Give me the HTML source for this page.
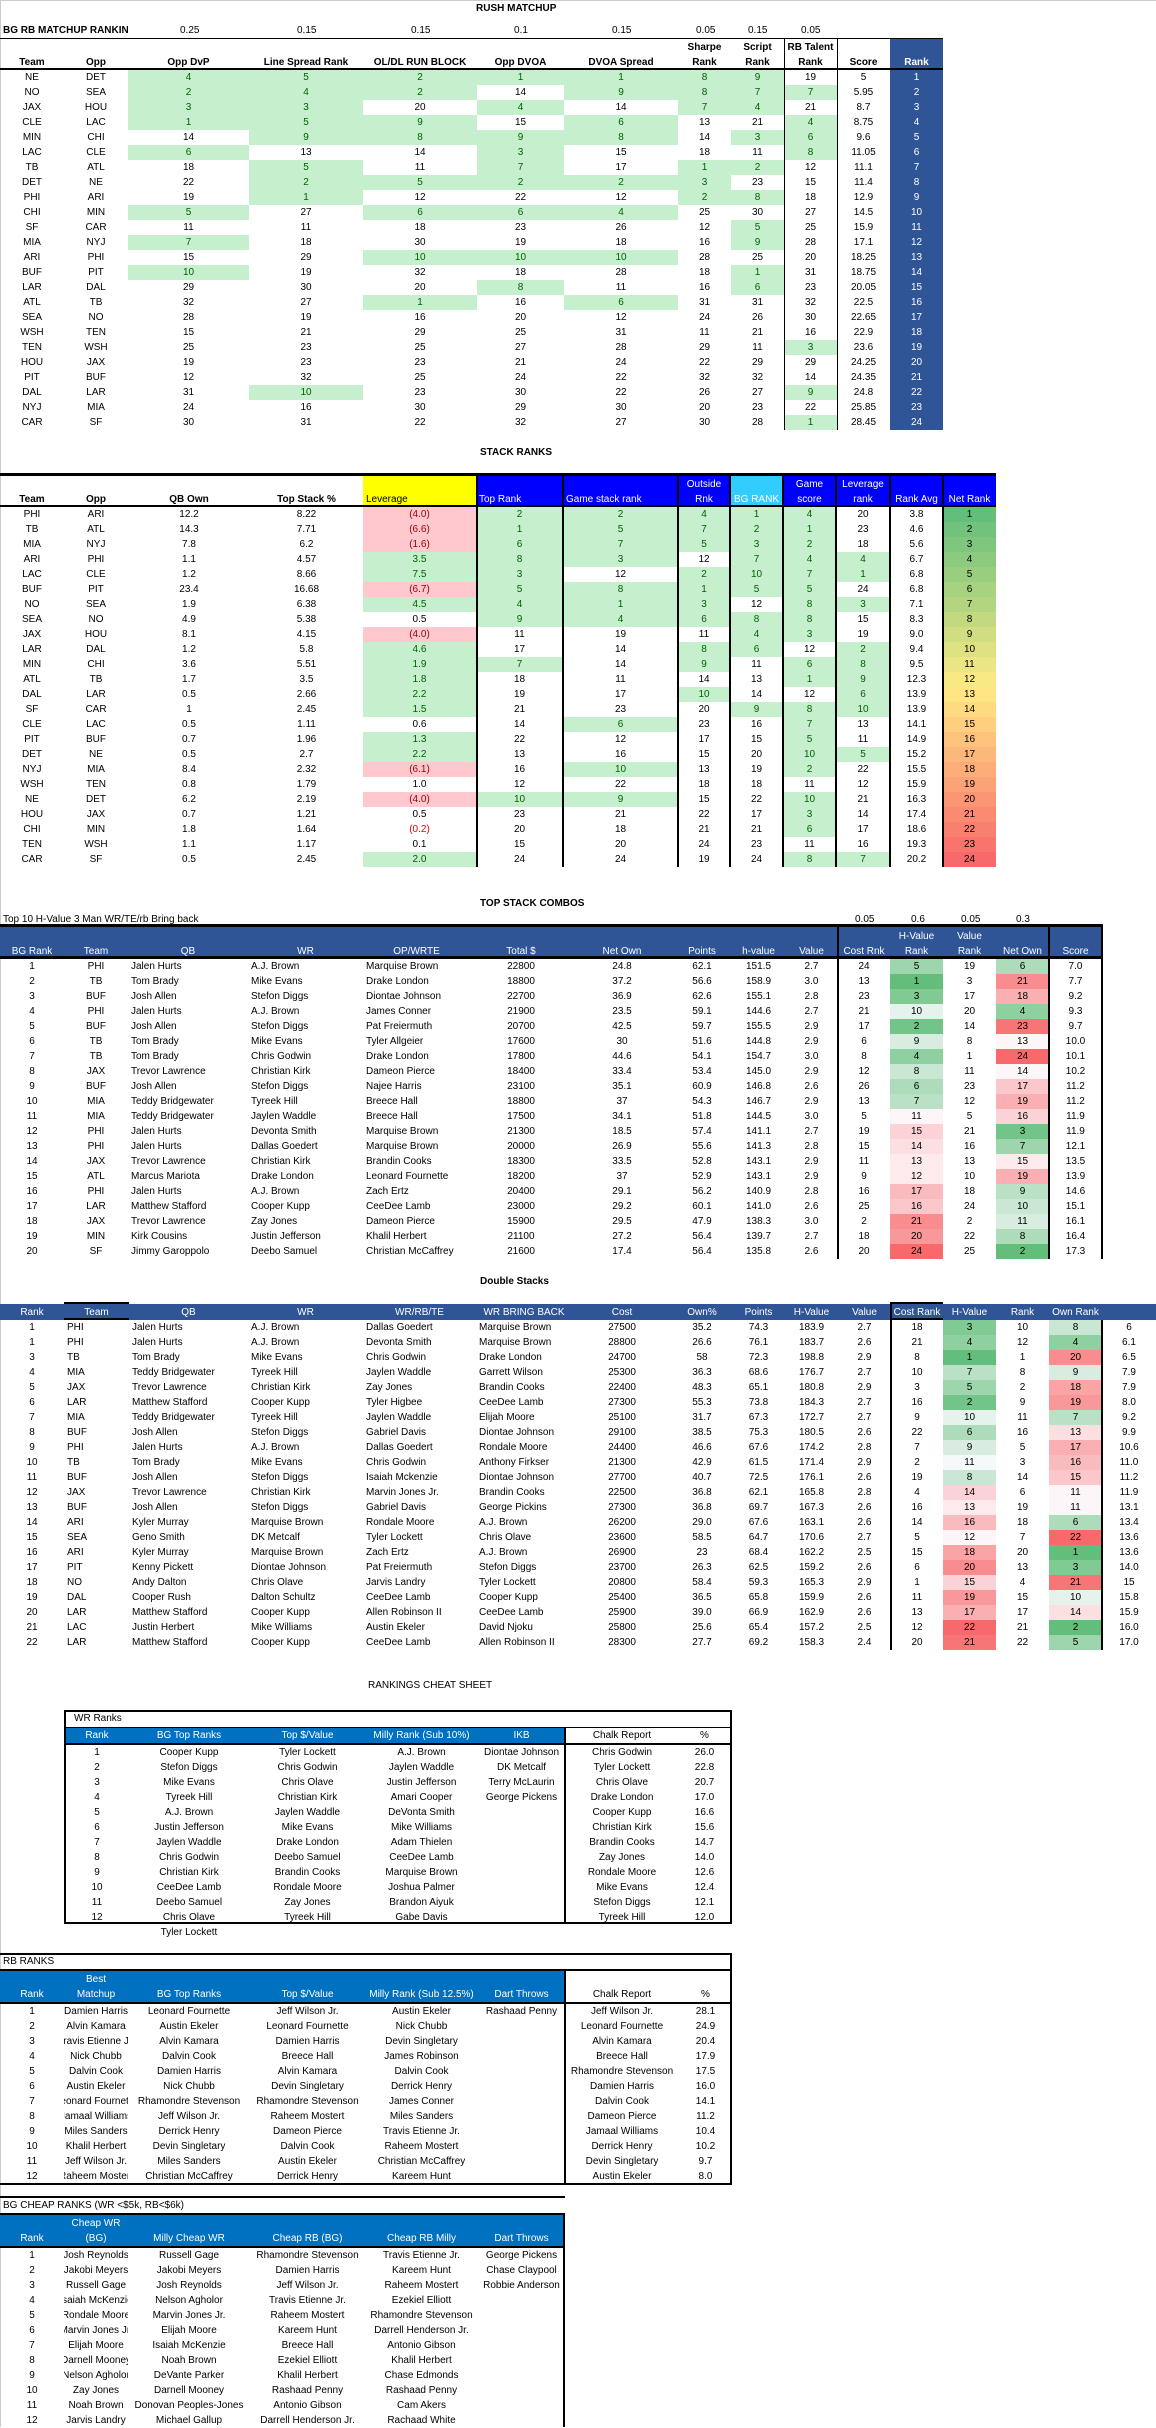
<!DOCTYPE html>
<html><head><meta charset="utf-8">
<style>
body{margin:0;width:1156px;height:2427px;overflow:hidden;position:relative;background:#fff;font-family:"Liberation Sans",sans-serif;font-size:10px;color:#000}
table{position:absolute;border-collapse:collapse;table-layout:fixed;border-spacing:0}
td{height:15px;padding:0;text-align:center;white-space:nowrap;overflow:hidden;line-height:15px}
tr.h td{font-weight:bold;vertical-align:bottom;line-height:15px}
.g{background:#C6EFCE;color:#006100}
.r{background:#FFC7CE;color:#9C0006}
.rt{color:#E00000}
.b{background:#2F5597;color:#fff}
.bb{background:#0000FF;color:#fff}
.cy{background:#33CCFF;color:#fff}
.y{background:#FFFF00}
.l{text-align:left;padding-left:3px}
.t{position:absolute;white-space:nowrap}
.hl{position:absolute;background:#000}
.vl{position:absolute;background:#000}
.c1{background:#63BE7B}.c2{background:#72C488}.c3{background:#80CA94}.c4{background:#8FD0A1}.c5{background:#9DD6AD}.c6{background:#ACDCBA}.c7{background:#BAE1C6}.c8{background:#C9E7D3}.c9{background:#D8EDE0}.c10{background:#E6F3EC}.c11{background:#F5F9F9}.c12{background:#FCF6F9}.c13{background:#FCEAED}.c14{background:#FBDFE1}.c15{background:#FBD3D6}.c16{background:#FBC7CA}.c17{background:#FABBBE}.c18{background:#FAB0B2}.c19{background:#FAA4A6}.c20{background:#F9989A}.c21{background:#F98C8E}.c22{background:#F98183}.c23{background:#F87577}.c24{background:#F8696B}
.cs td{font-size:10px}
.bl{background:#0070C0;color:#fff}
.cl{display:flex;justify-content:center;overflow:hidden;width:64px}
</style></head><body>
<div style="position:absolute;left:0;top:0;width:1px;height:2427px;background:#ccc"></div>
<div style="position:absolute;left:0;top:0;width:1156px;height:1px;background:#ccc"></div>

<!-- RUSH MATCHUP -->
<div class="t" style="left:476px;top:3px;font-weight:bold">RUSH MATCHUP</div>
<div class="t" style="left:3px;top:25px;width:125px;overflow:hidden;font-weight:bold">BG RB MATCHUP RANKINGS</div>
<div class="t" style="left:180px;top:25px">0.25</div>
<div class="t" style="left:297px;top:25px">0.15</div>
<div class="t" style="left:411px;top:25px">0.15</div>
<div class="t" style="left:514px;top:25px">0.1</div>
<div class="t" style="left:612px;top:25px">0.15</div>
<div class="t" style="left:696px;top:25px">0.05</div>
<div class="t" style="left:748px;top:25px">0.15</div>
<div class="t" style="left:801px;top:25px">0.05</div>
<table style="left:0;top:38px;width:943px">
<col style="width:64px"><col style="width:64px"><col style="width:121px"><col style="width:114px"><col style="width:114px"><col style="width:87px"><col style="width:114px"><col style="width:53px"><col style="width:53px"><col style="width:53px"><col style="width:53px"><col style="width:53px">
<tr class="h" style="height:32px"><td>Team<td>Opp<td>Opp DvP<td>Line Spread Rank<td>OL/DL RUN BLOCK<td>Opp DVOA<td>DVOA Spread<td>Sharpe<br>Rank<td>Script<br>Rank<td>RB Talent<br>Rank<td>Score<td class="b">Rank</tr>
<tr><td>NE<td>DET<td class=g>4<td class=g>5<td class=g>2<td class=g>1<td class=g>1<td class=g>8<td class=g>9<td>19<td>5<td class=b>1</tr>
<tr><td>NO<td>SEA<td class=g>2<td class=g>4<td class=g>2<td>14<td class=g>9<td class=g>8<td class=g>7<td class=g>7<td>5.95<td class=b>2</tr>
<tr><td>JAX<td>HOU<td class=g>3<td class=g>3<td>20<td class=g>4<td>14<td class=g>7<td class=g>4<td>21<td>8.7<td class=b>3</tr>
<tr><td>CLE<td>LAC<td class=g>1<td class=g>5<td class=g>9<td>15<td class=g>6<td>13<td>21<td class=g>4<td>8.75<td class=b>4</tr>
<tr><td>MIN<td>CHI<td>14<td class=g>9<td class=g>8<td class=g>9<td class=g>8<td>14<td class=g>3<td class=g>6<td>9.6<td class=b>5</tr>
<tr><td>LAC<td>CLE<td class=g>6<td>13<td>14<td class=g>3<td>15<td>18<td>11<td class=g>8<td>11.05<td class=b>6</tr>
<tr><td>TB<td>ATL<td>18<td class=g>5<td>11<td class=g>7<td>17<td class=g>1<td class=g>2<td>12<td>11.1<td class=b>7</tr>
<tr><td>DET<td>NE<td>22<td class=g>2<td class=g>5<td class=g>2<td class=g>2<td class=g>3<td>23<td>15<td>11.4<td class=b>8</tr>
<tr><td>PHI<td>ARI<td>19<td class=g>1<td>12<td>22<td>12<td class=g>2<td class=g>8<td>18<td>12.9<td class=b>9</tr>
<tr><td>CHI<td>MIN<td class=g>5<td>27<td class=g>6<td class=g>6<td class=g>4<td>25<td>30<td>27<td>14.5<td class=b>10</tr>
<tr><td>SF<td>CAR<td>11<td>11<td>18<td>23<td>26<td>12<td class=g>5<td>25<td>15.9<td class=b>11</tr>
<tr><td>MIA<td>NYJ<td class=g>7<td>18<td>30<td>19<td>18<td>16<td class=g>9<td>28<td>17.1<td class=b>12</tr>
<tr><td>ARI<td>PHI<td>15<td>29<td class=g>10<td class=g>10<td class=g>10<td>28<td>25<td>20<td>18.25<td class=b>13</tr>
<tr><td>BUF<td>PIT<td class=g>10<td>19<td>32<td>18<td>28<td>18<td class=g>1<td>31<td>18.75<td class=b>14</tr>
<tr><td>LAR<td>DAL<td>29<td>30<td>20<td class=g>8<td>11<td>16<td class=g>6<td>23<td>20.05<td class=b>15</tr>
<tr><td>ATL<td>TB<td>32<td>27<td class=g>1<td>16<td class=g>6<td>31<td>31<td>32<td>22.5<td class=b>16</tr>
<tr><td>SEA<td>NO<td>28<td>19<td>16<td>20<td>12<td>24<td>26<td>30<td>22.65<td class=b>17</tr>
<tr><td>WSH<td>TEN<td>15<td>21<td>29<td>25<td>31<td>11<td>21<td>16<td>22.9<td class=b>18</tr>
<tr><td>TEN<td>WSH<td>25<td>23<td>25<td>27<td>28<td>29<td>11<td class=g>3<td>23.6<td class=b>19</tr>
<tr><td>HOU<td>JAX<td>19<td>23<td>23<td>21<td>24<td>22<td>29<td>29<td>24.25<td class=b>20</tr>
<tr><td>PIT<td>BUF<td>12<td>32<td>25<td>24<td>22<td>32<td>32<td>14<td>24.35<td class=b>21</tr>
<tr><td>DAL<td>LAR<td>31<td class=g>10<td>23<td>30<td>22<td>26<td>27<td class=g>9<td>24.8<td class=b>22</tr>
<tr><td>NYJ<td>MIA<td>24<td>16<td>30<td>29<td>30<td>20<td>23<td>22<td>25.85<td class=b>23</tr>
<tr><td>CAR<td>SF<td>30<td>31<td>22<td>32<td>27<td>30<td>28<td class=g>1<td>28.45<td class=b>24</tr>
</table>
<div class="hl" style="left:0;top:38px;width:943px;height:1px"></div>
<div class="hl" style="left:0;top:68px;width:943px;height:2px"></div>
<div class="vl" style="left:784px;top:38px;width:1px;height:392px"></div>
<div class="vl" style="left:837px;top:38px;width:1px;height:392px"></div>

<!-- STACK RANKS -->
<div class="t" style="left:480px;top:447px;font-weight:bold">STACK RANKS</div>
<table style="left:0;top:476px;width:996px">
<col style="width:64px"><col style="width:64px"><col style="width:122px"><col style="width:113px"><col style="width:113px"><col style="width:87px"><col style="width:115px"><col style="width:52px"><col style="width:53px"><col style="width:53px"><col style="width:54px"><col style="width:53px"><col style="width:53px">
<tr class="h" style="height:31px"><td>Team<td>Opp<td>QB Own<td>Top Stack %<td class="y l" style="font-weight:normal">Leverage<td class="bb l" style="font-weight:normal">Top Rank<td class="bb l" style="font-weight:normal">Game stack rank<td class=bb style="font-weight:normal">Outside<br>Rnk<td class=cy style="font-weight:normal">BG RANK<td class=bb style="font-weight:normal">Game<br>score<td class=bb style="font-weight:normal">Leverage<br>rank<td class=bb style="font-weight:normal">Rank Avg<td class=bb style="font-weight:normal">Net Rank</tr>
<tr><td>PHI<td>ARI<td>12.2<td>8.22<td class=r>(4.0)<td class=g>2<td class=g>2<td class=g>4<td class=g>1<td class=g>4<td>20<td>3.8<td style="background:#63BE7B">1</tr>
<tr><td>TB<td>ATL<td>14.3<td>7.71<td class=r>(6.6)<td class=g>1<td class=g>5<td class=g>7<td class=g>2<td class=g>1<td>23<td>4.6<td style="background:#71C27C">2</tr>
<tr><td>MIA<td>NYJ<td>7.8<td>6.2<td class=r>(1.6)<td class=g>6<td class=g>7<td class=g>5<td class=g>3<td class=g>2<td>18<td>5.6<td style="background:#7EC67D">3</tr>
<tr><td>ARI<td>PHI<td>1.1<td>4.57<td class=g>3.5<td class=g>8<td class=g>3<td>12<td class=g>7<td class=g>4<td class=g>4<td>6.7<td style="background:#8CCA7D">4</tr>
<tr><td>LAC<td>CLE<td>1.2<td>8.66<td class=g>7.5<td class=g>3<td>12<td class=g>2<td class=g>10<td class=g>7<td class=g>1<td>6.8<td style="background:#99CE7E">5</tr>
<tr><td>BUF<td>PIT<td>23.4<td>16.68<td class=r>(6.7)<td class=g>5<td class=g>8<td class=g>1<td class=g>5<td class=g>5<td>24<td>6.8<td style="background:#A7D27F">6</tr>
<tr><td>NO<td>SEA<td>1.9<td>6.38<td class=g>4.5<td class=g>4<td class=g>1<td class=g>3<td>12<td class=g>8<td class=g>3<td>7.1<td style="background:#B4D580">7</tr>
<tr><td>SEA<td>NO<td>4.9<td>5.38<td>0.5<td class=g>9<td class=g>4<td class=g>6<td class=g>8<td class=g>8<td>15<td>8.3<td style="background:#C2D980">8</tr>
<tr><td>JAX<td>HOU<td>8.1<td>4.15<td class=r>(4.0)<td>11<td>19<td>11<td class=g>4<td class=g>3<td>19<td>9.0<td style="background:#D0DD81">9</tr>
<tr><td>LAR<td>DAL<td>1.2<td>5.8<td class=g>4.6<td>17<td>14<td class=g>8<td class=g>6<td>12<td class=g>2<td>9.4<td style="background:#DDE182">10</tr>
<tr><td>MIN<td>CHI<td>3.6<td>5.51<td class=g>1.9<td class=g>7<td>14<td class=g>9<td>11<td class=g>6<td class=g>8<td>9.5<td style="background:#EBE583">11</tr>
<tr><td>ATL<td>TB<td>1.7<td>3.5<td class=g>1.8<td>18<td>11<td>14<td>13<td class=g>1<td class=g>9<td>12.3<td style="background:#F8E984">12</tr>
<tr><td>DAL<td>LAR<td>0.5<td>2.66<td class=g>2.2<td>19<td>17<td class=g>10<td>14<td>12<td class=g>6<td>13.9<td style="background:#FFE583">13</tr>
<tr><td>SF<td>CAR<td>1<td>2.45<td class=g>1.5<td>21<td>23<td>20<td class=g>9<td class=g>8<td class=g>10<td>13.9<td style="background:#FEDA81">14</tr>
<tr><td>CLE<td>LAC<td>0.5<td>1.11<td>0.6<td>14<td class=g>6<td>23<td>16<td class=g>7<td>13<td>14.1<td style="background:#FDCF7F">15</tr>
<tr><td>PIT<td>BUF<td>0.7<td>1.96<td class=g>1.3<td>22<td>12<td>17<td>15<td class=g>5<td>11<td>14.9<td style="background:#FDC37C">16</tr>
<tr><td>DET<td>NE<td>0.5<td>2.7<td class=g>2.2<td>13<td>16<td>15<td>20<td class=g>10<td class=g>5<td>15.2<td style="background:#FCB87A">17</tr>
<tr><td>NYJ<td>MIA<td>8.4<td>2.32<td class=r>(6.1)<td>16<td class=g>10<td>13<td>19<td class=g>2<td>22<td>15.5<td style="background:#FCAD78">18</tr>
<tr><td>WSH<td>TEN<td>0.8<td>1.79<td>1.0<td>12<td>22<td>18<td>18<td>11<td>12<td>15.9<td style="background:#FBA276">19</tr>
<tr><td>NE<td>DET<td>6.2<td>2.19<td class=r>(4.0)<td class=g>10<td class=g>9<td>15<td>22<td class=g>10<td>21<td>16.3<td style="background:#FA9674">20</tr>
<tr><td>HOU<td>JAX<td>0.7<td>1.21<td>0.5<td>23<td>21<td>22<td>17<td class=g>3<td>14<td>17.4<td style="background:#FA8B72">21</tr>
<tr><td>CHI<td>MIN<td>1.8<td>1.64<td class=rt>(0.2)<td>20<td>18<td>21<td>21<td class=g>6<td>17<td>18.6<td style="background:#F9806F">22</tr>
<tr><td>TEN<td>WSH<td>1.1<td>1.17<td>0.1<td>15<td>20<td>24<td>23<td>11<td>16<td>19.3<td style="background:#F9746D">23</tr>
<tr><td>CAR<td>SF<td>0.5<td>2.45<td class=g>2.0<td>24<td>24<td>19<td>24<td class=g>8<td class=g>7<td>20.2<td style="background:#F8696B">24</tr>
</table>
<div class="hl" style="left:0;top:473px;width:996px;height:3px"></div>
<div class="hl" style="left:0;top:505px;width:996px;height:2px"></div>
<div class="vl" style="left:476px;top:476px;width:2px;height:391px"></div>
<div class="vl" style="left:562px;top:476px;width:2px;height:391px"></div>
<div class="vl" style="left:677px;top:476px;width:2px;height:391px"></div>
<div class="vl" style="left:729px;top:476px;width:2px;height:391px"></div>
<div class="vl" style="left:782px;top:476px;width:2px;height:391px"></div>
<div class="vl" style="left:835px;top:476px;width:2px;height:391px"></div>
<div class="vl" style="left:889px;top:476px;width:2px;height:391px"></div>
<div class="vl" style="left:942px;top:476px;width:2px;height:391px"></div>

<!-- TOP STACK COMBOS -->
<div class="t" style="left:480px;top:898px;font-weight:bold">TOP STACK COMBOS</div>
<div class="t" style="left:3px;top:914px">Top 10 H-Value 3 Man WR/TE/rb Bring back</div>
<div class="t" style="left:855px;top:914px">0.05</div>
<div class="t" style="left:911px;top:914px">0.6</div>
<div class="t" style="left:961px;top:914px">0.05</div>
<div class="t" style="left:1016px;top:914px">0.3</div>
<table style="left:0;top:927px;width:1102px">
<col style="width:64px"><col style="width:64px"><col style="width:120px"><col style="width:115px"><col style="width:107px"><col style="width:102px"><col style="width:100px"><col style="width:60px"><col style="width:53px"><col style="width:53px"><col style="width:52px"><col style="width:53px"><col style="width:53px"><col style="width:53px"><col style="width:53px">
<tr style="height:32px" class="b"><td style="vertical-align:bottom">BG Rank<td style="vertical-align:bottom">Team<td style="vertical-align:bottom">QB<td style="vertical-align:bottom">WR<td style="vertical-align:bottom">OP/WRTE<td style="vertical-align:bottom">Total $<td style="vertical-align:bottom">Net Own<td style="vertical-align:bottom">Points<td style="vertical-align:bottom">h-value<td style="vertical-align:bottom">Value<td style="vertical-align:bottom">Cost Rnk<td style="vertical-align:bottom">H-Value<br>Rank<td style="vertical-align:bottom">Value<br>Rank<td style="vertical-align:bottom">Net Own<td style="vertical-align:bottom">Score</tr>
<tr><td>1<td>PHI<td class=l>Jalen Hurts<td class=l>A.J. Brown<td class=l>Marquise Brown<td>22800<td>24.8<td>62.1<td>151.5<td>2.7<td>24<td class=c5>5<td>19<td class=c6>6<td>7.0</tr>
<tr><td>2<td>TB<td class=l>Tom Brady<td class=l>Mike Evans<td class=l>Drake London<td>18800<td>37.2<td>56.6<td>158.9<td>3.0<td>13<td class=c1>1<td>3<td class=c21>21<td>7.7</tr>
<tr><td>3<td>BUF<td class=l>Josh Allen<td class=l>Stefon Diggs<td class=l>Diontae Johnson<td>22700<td>36.9<td>62.6<td>155.1<td>2.8<td>23<td class=c3>3<td>17<td class=c18>18<td>9.2</tr>
<tr><td>4<td>PHI<td class=l>Jalen Hurts<td class=l>A.J. Brown<td class=l>James Conner<td>21900<td>23.5<td>59.1<td>144.6<td>2.7<td>21<td class=c10>10<td>20<td class=c4>4<td>9.3</tr>
<tr><td>5<td>BUF<td class=l>Josh Allen<td class=l>Stefon Diggs<td class=l>Pat Freiermuth<td>20700<td>42.5<td>59.7<td>155.5<td>2.9<td>17<td class=c2>2<td>14<td class=c23>23<td>9.7</tr>
<tr><td>6<td>TB<td class=l>Tom Brady<td class=l>Mike Evans<td class=l>Tyler Allgeier<td>17600<td>30<td>51.6<td>144.8<td>2.9<td>6<td class=c9>9<td>8<td class=c12>13<td>10.0</tr>
<tr><td>7<td>TB<td class=l>Tom Brady<td class=l>Chris Godwin<td class=l>Drake London<td>17800<td>44.6<td>54.1<td>154.7<td>3.0<td>8<td class=c4>4<td>1<td class=c24>24<td>10.1</tr>
<tr><td>8<td>JAX<td class=l>Trevor Lawrence<td class=l>Christian Kirk<td class=l>Dameon Pierce<td>18400<td>33.4<td>53.4<td>145.0<td>2.9<td>12<td class=c8>8<td>11<td class=c12>14<td>10.2</tr>
<tr><td>9<td>BUF<td class=l>Josh Allen<td class=l>Stefon Diggs<td class=l>Najee Harris<td>23100<td>35.1<td>60.9<td>146.8<td>2.6<td>26<td class=c6>6<td>23<td class=c16>17<td>11.2</tr>
<tr><td>10<td>MIA<td class=l>Teddy Bridgewater<td class=l>Tyreek Hill<td class=l>Breece Hall<td>18800<td>37<td>54.3<td>146.7<td>2.9<td>13<td class=c7>7<td>12<td class=c18>19<td>11.2</tr>
<tr><td>11<td>MIA<td class=l>Teddy Bridgewater<td class=l>Jaylen Waddle<td class=l>Breece Hall<td>17500<td>34.1<td>51.8<td>144.5<td>3.0<td>5<td class=c12>11<td>5<td class=c15>16<td>11.9</tr>
<tr><td>12<td>PHI<td class=l>Jalen Hurts<td class=l>Devonta Smith<td class=l>Marquise Brown<td>21300<td>18.5<td>57.4<td>141.1<td>2.7<td>19<td class=c15>15<td>21<td class=c2>3<td>11.9</tr>
<tr><td>13<td>PHI<td class=l>Jalen Hurts<td class=l>Dallas Goedert<td class=l>Marquise Brown<td>20000<td>26.9<td>55.6<td>141.3<td>2.8<td>15<td class=c14>14<td>16<td class=c5>7<td>12.1</tr>
<tr><td>14<td>JAX<td class=l>Trevor Lawrence<td class=l>Christian Kirk<td class=l>Brandin Cooks<td>18300<td>33.5<td>52.8<td>143.1<td>2.9<td>11<td class=c13>13<td>13<td class=c13>15<td>13.5</tr>
<tr><td>15<td>ATL<td class=l>Marcus Mariota<td class=l>Drake London<td class=l>Leonard Fournette<td>18200<td>37<td>52.9<td>143.1<td>2.9<td>9<td class=c13>12<td>10<td class=c18>19<td>13.9</tr>
<tr><td>16<td>PHI<td class=l>Jalen Hurts<td class=l>A.J. Brown<td class=l>Zach Ertz<td>20400<td>29.1<td>56.2<td>140.9<td>2.8<td>16<td class=c17>17<td>18<td class=c7>9<td>14.6</tr>
<tr><td>17<td>LAR<td class=l>Matthew Stafford<td class=l>Cooper Kupp<td class=l>CeeDee Lamb<td>23000<td>29.2<td>60.1<td>141.0<td>2.6<td>25<td class=c16>16<td>24<td class=c8>10<td>15.1</tr>
<tr><td>18<td>JAX<td class=l>Trevor Lawrence<td class=l>Zay Jones<td class=l>Dameon Pierce<td>15900<td>29.5<td>47.9<td>138.3<td>3.0<td>2<td class=c21>21<td>2<td class=c9>11<td>16.1</tr>
<tr><td>19<td>MIN<td class=l>Kirk Cousins<td class=l>Justin Jefferson<td class=l>Khalil Herbert<td>21100<td>27.2<td>56.4<td>139.7<td>2.7<td>18<td class=c20>20<td>22<td class=c6>8<td>16.4</tr>
<tr><td>20<td>SF<td class=l>Jimmy Garoppolo<td class=l>Deebo Samuel<td class=l>Christian McCaffrey<td>21600<td>17.4<td>56.4<td>135.8<td>2.6<td>20<td class=c24>24<td>25<td class=c1>2<td>17.3</tr>
</table>
<div class="hl" style="left:0;top:924px;width:1102px;height:3px"></div>
<div class="hl" style="left:0;top:956px;width:1102px;height:3px"></div>
<div class="vl" style="left:837px;top:924px;width:2px;height:335px"></div>
<div class="vl" style="left:1048px;top:924px;width:2px;height:335px"></div>
<div class="vl" style="left:1101px;top:924px;width:2px;height:335px"></div>

<!-- DOUBLE STACKS -->
<div class="t" style="left:480px;top:1276px;font-weight:bold">Double Stacks</div>
<table style="left:0;top:1304px;width:1156px">
<col style="width:64px"><col style="width:65px"><col style="width:119px"><col style="width:115px"><col style="width:113px"><col style="width:96px"><col style="width:100px"><col style="width:60px"><col style="width:53px"><col style="width:53px"><col style="width:53px"><col style="width:52px"><col style="width:53px"><col style="width:53px"><col style="width:53px"><col style="width:54px">
<tr style="height:16px" class="b"><td>Rank<td>Team<td>QB<td>WR<td>WR/RB/TE<td>WR BRING BACK<td>Cost<td>Own%<td>Points<td>H-Value<td>Value<td>Cost Rank<td>H-Value<td>Rank<td>Own Rank<td></tr>
<tr><td>1<td class=l>PHI<td class=l>Jalen Hurts<td class=l>A.J. Brown<td class=l>Dallas Goedert<td class=l>Marquise Brown<td>27500<td>35.2<td>74.3<td>183.9<td>2.7<td>18<td class=c3>3<td>10<td class=c8>8<td>6</tr>
<tr><td>1<td class=l>PHI<td class=l>Jalen Hurts<td class=l>A.J. Brown<td class=l>Devonta Smith<td class=l>Marquise Brown<td>28800<td>26.6<td>76.1<td>183.7<td>2.6<td>21<td class=c4>4<td>12<td class=c4>4<td>6.1</tr>
<tr><td>3<td class=l>TB<td class=l>Tom Brady<td class=l>Mike Evans<td class=l>Chris Godwin<td class=l>Drake London<td>24700<td>58<td>72.3<td>198.8<td>2.9<td>8<td class=c1>1<td>1<td class=c21>20<td>6.5</tr>
<tr><td>4<td class=l>MIA<td class=l>Teddy Bridgewater<td class=l>Tyreek Hill<td class=l>Jaylen Waddle<td class=l>Garrett Wilson<td>25300<td>36.3<td>68.6<td>176.7<td>2.7<td>10<td class=c7>7<td>8<td class=c9>9<td>7.9</tr>
<tr><td>5<td class=l>JAX<td class=l>Trevor Lawrence<td class=l>Christian Kirk<td class=l>Zay Jones<td class=l>Brandin Cooks<td>22400<td>48.3<td>65.1<td>180.8<td>2.9<td>3<td class=c5>5<td>2<td class=c19>18<td>7.9</tr>
<tr><td>6<td class=l>LAR<td class=l>Matthew Stafford<td class=l>Cooper Kupp<td class=l>Tyler Higbee<td class=l>CeeDee Lamb<td>27300<td>55.3<td>73.8<td>184.3<td>2.7<td>16<td class=c2>2<td>9<td class=c20>19<td>8.0</tr>
<tr><td>7<td class=l>MIA<td class=l>Teddy Bridgewater<td class=l>Tyreek Hill<td class=l>Jaylen Waddle<td class=l>Elijah Moore<td>25100<td>31.7<td>67.3<td>172.7<td>2.7<td>9<td class=c10>10<td>11<td class=c7>7<td>9.2</tr>
<tr><td>8<td class=l>BUF<td class=l>Josh Allen<td class=l>Stefon Diggs<td class=l>Gabriel Davis<td class=l>Diontae Johnson<td>29100<td>38.5<td>75.3<td>180.5<td>2.6<td>22<td class=c6>6<td>16<td class=c14>13<td>9.9</tr>
<tr><td>9<td class=l>PHI<td class=l>Jalen Hurts<td class=l>A.J. Brown<td class=l>Dallas Goedert<td class=l>Rondale Moore<td>24400<td>46.6<td>67.6<td>174.2<td>2.8<td>7<td class=c9>9<td>5<td class=c18>17<td>10.6</tr>
<tr><td>10<td class=l>TB<td class=l>Tom Brady<td class=l>Mike Evans<td class=l>Chris Godwin<td class=l>Anthony Firkser<td>21300<td>42.9<td>61.5<td>171.4<td>2.9<td>2<td class=c11>11<td>3<td class=c17>16<td>11.0</tr>
<tr><td>11<td class=l>BUF<td class=l>Josh Allen<td class=l>Stefon Diggs<td class=l>Isaiah Mckenzie<td class=l>Diontae Johnson<td>27700<td>40.7<td>72.5<td>176.1<td>2.6<td>19<td class=c8>8<td>14<td class=c16>15<td>11.2</tr>
<tr><td>12<td class=l>JAX<td class=l>Trevor Lawrence<td class=l>Christian Kirk<td class=l>Marvin Jones Jr.<td class=l>Brandin Cooks<td>22500<td>36.8<td>62.1<td>165.8<td>2.8<td>4<td class=c15>14<td>6<td class=c12>11<td>11.9</tr>
<tr><td>13<td class=l>BUF<td class=l>Josh Allen<td class=l>Stefon Diggs<td class=l>Gabriel Davis<td class=l>George Pickins<td>27300<td>36.8<td>69.7<td>167.3<td>2.6<td>16<td class=c13>13<td>19<td class=c12>11<td>13.1</tr>
<tr><td>14<td class=l>ARI<td class=l>Kyler Murray<td class=l>Marquise Brown<td class=l>Rondale Moore<td class=l>A.J. Brown<td>26200<td>29.0<td>67.6<td>163.1<td>2.6<td>14<td class=c17>16<td>18<td class=c6>6<td>13.4</tr>
<tr><td>15<td class=l>SEA<td class=l>Geno Smith<td class=l>DK Metcalf<td class=l>Tyler Lockett<td class=l>Chris Olave<td>23600<td>58.5<td>64.7<td>170.6<td>2.7<td>5<td class=c12>12<td>7<td class=c24>22<td>13.6</tr>
<tr><td>16<td class=l>ARI<td class=l>Kyler Murray<td class=l>Marquise Brown<td class=l>Zach Ertz<td class=l>A.J. Brown<td>26900<td>23<td>68.4<td>162.2<td>2.5<td>15<td class=c19>18<td>20<td class=c1>1<td>13.6</tr>
<tr><td>17<td class=l>PIT<td class=l>Kenny Pickett<td class=l>Diontae Johnson<td class=l>Pat Freiermuth<td class=l>Stefon Diggs<td>23700<td>26.3<td>62.5<td>159.2<td>2.6<td>6<td class=c21>20<td>13<td class=c3>3<td>14.0</tr>
<tr><td>18<td class=l>NO<td class=l>Andy Dalton<td class=l>Chris Olave<td class=l>Jarvis Landry<td class=l>Tyler Lockett<td>20800<td>58.4<td>59.3<td>165.3<td>2.9<td>1<td class=c15>15<td>4<td class=c23>21<td>15</tr>
<tr><td>19<td class=l>DAL<td class=l>Cooper Rush<td class=l>Dalton Schultz<td class=l>CeeDee Lamb<td class=l>Cooper Kupp<td>25400<td>36.5<td>65.8<td>159.9<td>2.6<td>11<td class=c20>19<td>15<td class=c10>10<td>15.8</tr>
<tr><td>20<td class=l>LAR<td class=l>Matthew Stafford<td class=l>Cooper Kupp<td class=l>Allen Robinson II<td class=l>CeeDee Lamb<td>25900<td>39.0<td>66.9<td>162.9<td>2.6<td>13<td class=c18>17<td>17<td class=c14>14<td>15.9</tr>
<tr><td>21<td class=l>LAC<td class=l>Justin Herbert<td class=l>Mike Williams<td class=l>Austin Ekeler<td class=l>David Njoku<td>25800<td>25.6<td>65.4<td>157.2<td>2.5<td>12<td class=c24>22<td>21<td class=c1>2<td>16.0</tr>
<tr><td>22<td class=l>LAR<td class=l>Matthew Stafford<td class=l>Cooper Kupp<td class=l>CeeDee Lamb<td class=l>Allen Robinson II<td>28300<td>27.7<td>69.2<td>158.3<td>2.4<td>20<td class=c23>21<td>22<td class=c5>5<td>17.0</tr>
</table>
<div class="hl" style="left:64px;top:1302px;width:65px;height:2px"></div>
<div class="hl" style="left:64px;top:1318px;width:65px;height:2px"></div>
<div class="hl" style="left:891px;top:1302px;width:52px;height:2px"></div>
<div class="hl" style="left:891px;top:1318px;width:52px;height:2px"></div>
<div class="vl" style="left:890px;top:1302px;width:2px;height:348px"></div>
<div class="vl" style="left:1101px;top:1320px;width:2px;height:330px"></div>

<!-- CHEAT SHEET -->
<div class="t" style="left:368px;top:1680px">RANKINGS CHEAT SHEET</div>
<div style="position:absolute;left:64px;top:1710px;width:664px;height:210px;border:2px solid #000"></div>
<div class="t" style="left:74px;top:1713px">WR Ranks</div>
<div class="hl" style="left:64px;top:1727px;width:668px;height:1px"></div>
<table class="cs" style="left:66px;top:1728px;width:664px">
<col style="width:62px"><col style="width:122px"><col style="width:115px"><col style="width:113px"><col style="width:87px"><col style="width:114px"><col style="width:51px">
<tr style="height:14px"><td class=bl>Rank<td class=bl>BG Top Ranks<td class=bl>Top $/Value<td class=bl>Milly Rank (Sub 10%)<td class=bl>IKB<td>Chalk Report<td>%</tr>
<tr style="height:2px"><td colspan=7 style="height:2px;background:#000"></tr>
<tr><td>1<td>Cooper Kupp<td>Tyler Lockett<td>A.J. Brown<td>Diontae Johnson<td>Chris Godwin<td>26.0</tr>
<tr><td>2<td>Stefon Diggs<td>Chris Godwin<td>Jaylen Waddle<td>DK Metcalf<td>Tyler Lockett<td>22.8</tr>
<tr><td>3<td>Mike Evans<td>Chris Olave<td>Justin Jefferson<td>Terry McLaurin<td>Chris Olave<td>20.7</tr>
<tr><td>4<td>Tyreek Hill<td>Christian Kirk<td>Amari Cooper<td>George Pickens<td>Drake London<td>17.0</tr>
<tr><td>5<td>A.J. Brown<td>Jaylen Waddle<td>DeVonta Smith<td><td>Cooper Kupp<td>16.6</tr>
<tr><td>6<td>Justin Jefferson<td>Mike Evans<td>Mike Williams<td><td>Christian Kirk<td>15.6</tr>
<tr><td>7<td>Jaylen Waddle<td>Drake London<td>Adam Thielen<td><td>Brandin Cooks<td>14.7</tr>
<tr><td>8<td>Chris Godwin<td>Deebo Samuel<td>CeeDee Lamb<td><td>Zay Jones<td>14.0</tr>
<tr><td>9<td>Christian Kirk<td>Brandin Cooks<td>Marquise Brown<td><td>Rondale Moore<td>12.6</tr>
<tr><td>10<td>CeeDee Lamb<td>Rondale Moore<td>Joshua Palmer<td><td>Mike Evans<td>12.4</tr>
<tr><td>11<td>Deebo Samuel<td>Zay Jones<td>Brandon Aiyuk<td><td>Stefon Diggs<td>12.1</tr>
<tr><td>12<td>Chris Olave<td>Tyreek Hill<td>Gabe Davis<td><td>Tyreek Hill<td>12.0</tr>
<tr><td><td>Tyler Lockett<td><td><td><td><td></tr>
</table>
<div class="vl" style="left:564px;top:1727px;width:2px;height:195px"></div>

<!-- RB RANKS -->
<div class="hl" style="left:0;top:1953px;width:732px;height:2px"></div>
<div class="t" style="left:3px;top:1956px">RB RANKS</div>
<div class="hl" style="left:0;top:1969px;width:732px;height:2px"></div>
<table class="cs" style="left:0;top:1971px;width:732px">
<col style="width:64px"><col style="width:64px"><col style="width:122px"><col style="width:115px"><col style="width:113px"><col style="width:87px"><col style="width:114px"><col style="width:53px">
<tr style="height:31px"><td class=bl style="vertical-align:bottom">Rank<td class=bl>Best<br>Matchup<td class=bl style="vertical-align:bottom">BG Top Ranks<td class=bl style="vertical-align:bottom">Top $/Value<td class=bl style="vertical-align:bottom">Milly Rank (Sub 12.5%)<td class=bl style="vertical-align:bottom">Dart Throws<td style="vertical-align:bottom">Chalk Report<td style="vertical-align:bottom">%</tr>
<tr style="height:2px"><td colspan=8 style="height:2px;background:#000"></tr>
<tr><td>1<td><div class=cl>Damien Harris</div><td>Leonard Fournette<td>Jeff Wilson Jr.<td>Austin Ekeler<td>Rashaad Penny<td>Jeff Wilson Jr.<td>28.1</tr>
<tr><td>2<td><div class=cl>Alvin Kamara</div><td>Austin Ekeler<td>Leonard Fournette<td>Nick Chubb<td><td>Leonard Fournette<td>24.9</tr>
<tr><td>3<td><div class=cl>Travis Etienne Jr.</div><td>Alvin Kamara<td>Damien Harris<td>Devin Singletary<td><td>Alvin Kamara<td>20.4</tr>
<tr><td>4<td><div class=cl>Nick Chubb</div><td>Dalvin Cook<td>Breece Hall<td>James Robinson<td><td>Breece Hall<td>17.9</tr>
<tr><td>5<td><div class=cl>Dalvin Cook</div><td>Damien Harris<td>Alvin Kamara<td>Dalvin Cook<td><td>Rhamondre Stevenson<td>17.5</tr>
<tr><td>6<td><div class=cl>Austin Ekeler</div><td>Nick Chubb<td>Devin Singletary<td>Derrick Henry<td><td>Damien Harris<td>16.0</tr>
<tr><td>7<td><div class=cl>Leonard Fournette</div><td>Rhamondre Stevenson<td>Rhamondre Stevenson<td>James Conner<td><td>Dalvin Cook<td>14.1</tr>
<tr><td>8<td><div class=cl>Jamaal Williams</div><td>Jeff Wilson Jr.<td>Raheem Mostert<td>Miles Sanders<td><td>Dameon Pierce<td>11.2</tr>
<tr><td>9<td><div class=cl>Miles Sanders</div><td>Derrick Henry<td>Dameon Pierce<td>Travis Etienne Jr.<td><td>Jamaal Williams<td>10.4</tr>
<tr><td>10<td><div class=cl>Khalil Herbert</div><td>Devin Singletary<td>Dalvin Cook<td>Raheem Mostert<td><td>Derrick Henry<td>10.2</tr>
<tr><td>11<td><div class=cl>Jeff Wilson Jr.</div><td>Miles Sanders<td>Austin Ekeler<td>Christian McCaffrey<td><td>Devin Singletary<td>9.7</tr>
<tr><td>12<td><div class=cl>Raheem Mostert</div><td>Christian McCaffrey<td>Derrick Henry<td>Kareem Hunt<td><td>Austin Ekeler<td>8.0</tr>
</table>
<div class="vl" style="left:564px;top:1969px;width:2px;height:216px"></div>
<div class="vl" style="left:730px;top:1953px;width:2px;height:232px"></div>
<div class="hl" style="left:0;top:2183px;width:732px;height:2px"></div>

<!-- CHEAP -->
<div class="hl" style="left:0;top:2196px;width:565px;height:2px"></div>
<div class="t" style="left:3px;top:2200px">BG CHEAP RANKS (WR &lt;$5k, RB&lt;$6k)</div>
<table class="cs" style="left:0;top:2215px;width:565px">
<col style="width:64px"><col style="width:64px"><col style="width:122px"><col style="width:115px"><col style="width:113px"><col style="width:87px">
<tr style="height:31px"><td class=bl style="vertical-align:bottom">Rank<td class=bl>Cheap WR<br>(BG)<td class=bl style="vertical-align:bottom">Milly Cheap WR<td class=bl style="vertical-align:bottom">Cheap RB (BG)<td class=bl style="vertical-align:bottom">Cheap RB Milly<td class=bl style="vertical-align:bottom">Dart Throws</tr>
<tr style="height:2px"><td colspan=6 style="height:2px;background:#000"></tr>
<tr><td>1<td><div class=cl>Josh Reynolds</div><td>Russell Gage<td>Rhamondre Stevenson<td>Travis Etienne Jr.<td>George Pickens</tr>
<tr><td>2<td><div class=cl>Jakobi Meyers</div><td>Jakobi Meyers<td>Damien Harris<td>Kareem Hunt<td>Chase Claypool</tr>
<tr><td>3<td><div class=cl>Russell Gage</div><td>Josh Reynolds<td>Jeff Wilson Jr.<td>Raheem Mostert<td>Robbie Anderson</tr>
<tr><td>4<td><div class=cl>Isaiah McKenzie</div><td>Nelson Agholor<td>Travis Etienne Jr.<td>Ezekiel Elliott<td></tr>
<tr><td>5<td><div class=cl>Rondale Moore</div><td>Marvin Jones Jr.<td>Raheem Mostert<td>Rhamondre Stevenson<td></tr>
<tr><td>6<td><div class=cl>Marvin Jones Jr.</div><td>Elijah Moore<td>Kareem Hunt<td>Darrell Henderson Jr.<td></tr>
<tr><td>7<td><div class=cl>Elijah Moore</div><td>Isaiah McKenzie<td>Breece Hall<td>Antonio Gibson<td></tr>
<tr><td>8<td><div class=cl>Darnell Mooney</div><td>Noah Brown<td>Ezekiel Elliott<td>Khalil Herbert<td></tr>
<tr><td>9<td><div class=cl>Nelson Agholor</div><td>DeVante Parker<td>Khalil Herbert<td>Chase Edmonds<td></tr>
<tr><td>10<td><div class=cl>Zay Jones</div><td>Darnell Mooney<td>Rashaad Penny<td>Rashaad Penny<td></tr>
<tr><td>11<td><div class=cl>Noah Brown</div><td>Donovan Peoples-Jones<td>Antonio Gibson<td>Cam Akers<td></tr>
<tr><td>12<td><div class=cl>Jarvis Landry</div><td>Michael Gallup<td>Darrell Henderson Jr.<td>Rachaad White<td></tr>
</table>
<div class="vl" style="left:563px;top:2213px;width:2px;height:214px"></div>
<div class="hl" style="left:0;top:2213px;width:565px;height:2px"></div>
</body></html>
